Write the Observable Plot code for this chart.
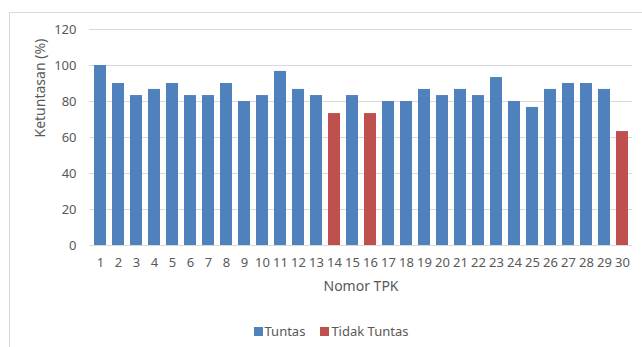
<!DOCTYPE html>
<html>
<head>
<meta charset="utf-8">
<script src="https://cdn.jsdelivr.net/npm/d3@7"></script>
<script src="https://cdn.jsdelivr.net/npm/@observablehq/plot@0.6"></script>
<style>
  html, body { margin: 0; padding: 0; background: #fff; }
  body { width: 642px; height: 347px; position: relative; overflow: hidden; font-family: "Noto Sans", "Open Sans", sans-serif; }
  #frame { position: absolute; left: 9px; top: 12px; width: 700px; height: 400px; border-left: 1.5px solid #d9d9d9; border-top: 1.5px solid #d9d9d9; box-sizing: border-box; }
  #chart { position: absolute; left: 0; top: 0; }
  #legend { position: absolute; left: 0; top: 322px; width: 662px; display: flex; justify-content: center; gap: 15px; font-size: 13px; color: #595959; }
  #legend span.item { display: flex; align-items: center; gap: 2px; }
  #legend span.sw { display: inline-block; width: 9px; height: 9px; }
</style>
</head>
<body>
<div id="frame"></div>
<div id="chart"></div>
<div id="legend"></div>
<script>
const tpk = ["1","2","3","4","5","6","7","8","9","10","11","12","13","14","15","16","17","18","19","20","21","22","23","24","25","26","27","28","29","30"];
const ketuntasan = [100, 90, 83.3, 86.7, 90, 83.3, 83.3, 90, 80, 83.3, 96.7, 86.7, 83.3, 73.3, 83.3, 73.3, 80, 80, 86.7, 83.3, 86.7, 83.3, 93.3, 80, 76.7, 86.7, 90, 90, 86.7, 63.3];
const status = ["Tuntas","Tuntas","Tuntas","Tuntas","Tuntas","Tuntas","Tuntas","Tuntas","Tuntas","Tuntas","Tuntas","Tuntas","Tuntas","Tidak Tuntas","Tuntas","Tidak Tuntas","Tuntas","Tuntas","Tuntas","Tuntas","Tuntas","Tuntas","Tuntas","Tuntas","Tuntas","Tuntas","Tuntas","Tuntas","Tuntas","Tidak Tuntas"];
const categories = ["Tuntas", "Tidak Tuntas"];
const colors = ["#4f81bd", "#c0504d"];
const yTicks = [0, 20, 40, 60, 80, 100, 120];

const data = tpk.map((t, i) => ({tpk: t, value: ketuntasan[i], status: status[i]}));

const plot = Plot.plot({
  width: 642,
  height: 305,
  marginTop: 29,
  marginBottom: 60,
  marginLeft: 89,
  marginRight: 10,
  style: { fontFamily: "'Noto Sans', 'Open Sans', sans-serif", fontSize: "13px", color: "#595959", background: "transparent" },
  x: { domain: tpk, paddingInner: 0.35, paddingOuter: 0.175, label: null },
  y: { domain: [0, 120], label: null },
  color: { domain: categories, range: colors },
  marks: [
    Plot.gridY(yTicks, { stroke: "#d9d9d9", strokeOpacity: 1, strokeWidth: 1 }),
    Plot.barY(data, { x: "tpk", y: "value", fill: "status" }),
    Plot.axisY(yTicks, { tickSize: 0, tickPadding: 13, fontSize: 13, fill: "#595959", label: null }),
    Plot.axisX({ tickSize: 0, tickPadding: 12, fontSize: 13, fill: "#595959", label: null }),
    Plot.text(["Ketuntasan (%)"], { frameAnchor: "left", dx: -49, rotate: -90, fontSize: 14, fill: "#595959" }),
    Plot.text(["Nomor TPK"], { frameAnchor: "bottom", dy: 45, fontSize: 14, fill: "#595959" })
  ]
});
document.getElementById("chart").appendChild(plot);

const legend = document.getElementById("legend");
categories.forEach((c, i) => {
  const item = document.createElement("span");
  item.className = "item";
  const sw = document.createElement("span");
  sw.className = "sw";
  sw.style.background = colors[i];
  const lab = document.createElement("span");
  lab.textContent = c;
  item.appendChild(sw);
  item.appendChild(lab);
  legend.appendChild(item);
});
</script>
</body>
</html>
